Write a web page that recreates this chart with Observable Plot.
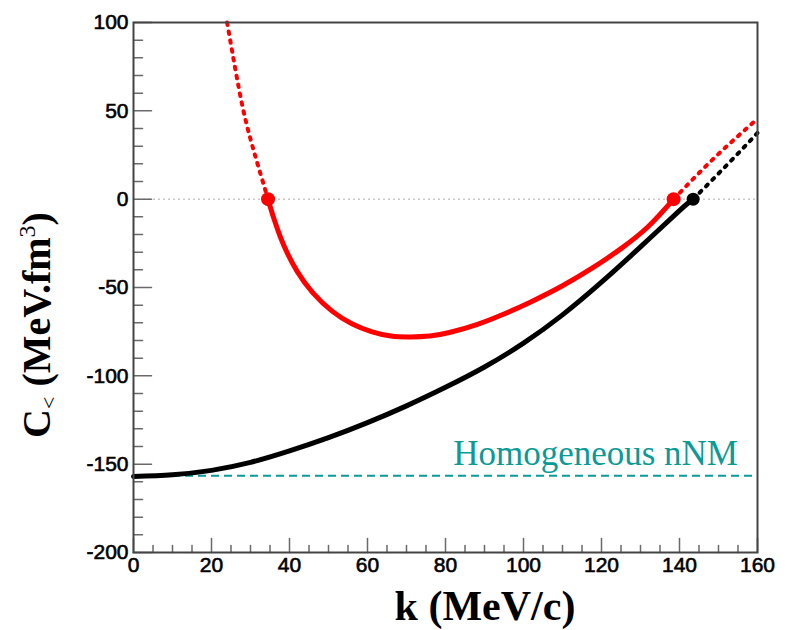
<!DOCTYPE html>
<html>
<head>
<meta charset="utf-8">
<script src="https://cdn.jsdelivr.net/npm/d3@7"></script>
<script src="https://cdn.jsdelivr.net/npm/@observablehq/plot@0.6"></script>
<style>
  body { margin: 0; background: #fff; }
  #chart { width: 787px; height: 630px; }
</style>
</head>
<body>
<div id="chart"></div>
<script>
// ---- data ----
const redSolidK = [34.5, 36, 38.5, 42, 46, 51, 56, 61, 66, 71, 76, 81, 88, 95, 102, 110, 118, 125, 132, 138.5];
const redSolidC = [0, -11, -26, -41, -53, -63.5, -70.5, -75, -77.5, -78, -77.5, -75.5, -71, -65, -58, -49, -38.5, -28, -15.5, 0];

const redDotLeftK = [24, 26, 28, 30, 32, 34.5];
const redDotLeftC = [100, 75, 52, 34, 18.5, 0];

const redDotRightK = [138.5, 149, 160];
const redDotRightC = [0, 23.5, 45.5];

const blackSolidK = [0, 10, 20, 30, 40, 50, 60, 70, 80, 90, 100, 110, 120, 130, 140, 143.5];
const blackSolidC = [-157, -156, -153.5, -149, -142.5, -135, -126.5, -117, -106.5, -95, -81.5, -65.5, -47, -27, -6.5, 0];

const blackDotK = [143.5, 152, 160];
const blackDotC = [0, 19, 37.5];

const redZeroK = [34.5, 138.5];
const blackZeroK = [143.5];

const homogeneousC = [-156.5];
const homogeneousLabel = "Homogeneous nNM";
const homogeneousLabelK = [155];
const homogeneousLabelC = [-150.7];

const xTicks = [0, 20, 40, 60, 80, 100, 120, 140, 160];
const xMinorTicks = [5, 10, 15, 25, 30, 35, 45, 50, 55, 65, 70, 75, 85, 90, 95, 105, 110, 115, 125, 130, 135, 145, 150, 155];
const yTicks = [-200, -150, -100, -50, 0, 50, 100];
const yMinorTicks = [-190, -180, -170, -160, -140, -130, -120, -110, -90, -80, -70, -60, -40, -30, -20, -10, 10, 20, 30, 40, 60, 70, 80, 90];

const xTitle = "k (MeV/c)";

// ---- build tables ----
const pts = (ks, cs) => ks.map((k, i) => ({k, c: cs[i]}));
const redSolid = pts(redSolidK, redSolidC);
const redDotLeft = pts(redDotLeftK, redDotLeftC);
const redDotRight = pts(redDotRightK, redDotRightC);
const blackSolid = pts(blackSolidK, blackSolidC);
const blackDot = pts(blackDotK, blackDotC);
const labelData = pts(homogeneousLabelK, homogeneousLabelC);

const RED = "#ff0000", TEAL = "#0a9a98", TICK = "#6a6a6a";
const tickShape = {draw(ctx, l) { ctx.moveTo(0, 0); ctx.lineTo(0, -l); }};
const DOTS = "2.5,6.5";

const plot = Plot.plot({
  width: 787,
  height: 630,
  marginLeft: 133,
  marginRight: 30,
  marginTop: 22,
  marginBottom: 78,
  x: {domain: [0, 160]},
  y: {domain: [-200, 100]},
  style: {fontFamily: "'Liberation Sans', Arial, sans-serif", fontSize: "21px", color: "#000", background: "#fff"},
  marks: [
    Plot.ruleY([0], {stroke: "#aaa", strokeWidth: 1, strokeDasharray: "2,3"}),
    Plot.ruleY(homogeneousC, {stroke: TEAL, strokeWidth: 2, strokeDasharray: "8,5"}),
    Plot.text(labelData, {x: "k", y: "c", text: () => homogeneousLabel, textAnchor: "end", lineAnchor: "bottom",
      fontFamily: "'Liberation Serif', 'Times New Roman', serif", fontSize: 35, fill: TEAL}),
    Plot.line(redDotLeft, {x: "k", y: "c", stroke: RED, strokeWidth: 4, strokeDasharray: DOTS, curve: "natural"}),
    Plot.line(redDotRight, {x: "k", y: "c", stroke: RED, strokeWidth: 4, strokeDasharray: DOTS, curve: "natural"}),
    Plot.line(blackDot, {x: "k", y: "c", stroke: "#000", strokeWidth: 4, strokeDasharray: DOTS, curve: "natural"}),
    Plot.line(blackSolid, {x: "k", y: "c", stroke: "#000", strokeWidth: 5, curve: "natural"}),
    Plot.line(redSolid, {x: "k", y: "c", stroke: RED, strokeWidth: 5, curve: "natural"}),
    Plot.dot(redZeroK, {x: d => d, y: () => 0, r: 7, fill: RED, stroke: null}),
    Plot.dot(blackZeroK, {x: d => d, y: () => 0, r: 6.5, fill: "#000", stroke: null}),
    // inside ticks
    Plot.vector(xTicks, {x: d => d, frameAnchor: "bottom", rotate: 0, length: 14, anchor: "start", shape: tickShape, stroke: TICK, strokeWidth: 1.5}),
    Plot.vector(xMinorTicks, {x: d => d, frameAnchor: "bottom", rotate: 0, length: 7, anchor: "start", shape: tickShape, stroke: TICK, strokeWidth: 1.5}),
    Plot.vector(yTicks, {y: d => d, frameAnchor: "left", rotate: 90, length: 18, anchor: "start", shape: tickShape, stroke: TICK, strokeWidth: 1.5}),
    Plot.vector(yMinorTicks, {y: d => d, frameAnchor: "left", rotate: 90, length: 9, anchor: "start", shape: tickShape, stroke: TICK, strokeWidth: 1.5}),
    Plot.axisX({ticks: xTicks, tickSize: 0, tickPadding: 5, tickFormat: d => String(d), label: null, fontSize: 21}),
    Plot.axisY({ticks: yTicks, tickSize: 0, tickPadding: 5, tickFormat: d => String(d), label: null, fontSize: 21}),
    Plot.frame({stroke: "#444", strokeWidth: 2})
  ]
});

document.getElementById("chart").appendChild(plot);

const svg = d3.select(plot);
// slightly heavier tick labels, like the reference
svg.selectAll('g[aria-label="x-axis tick label"] text, g[aria-label="y-axis tick label"] text')
  .attr("stroke", "#000").attr("stroke-width", 0.6).attr("paint-order", "fill");

// axis titles with sub/superscripts
svg.append("text")
  .attr("x", 485).attr("y", 620)
  .attr("text-anchor", "middle")
  .attr("font-family", "'Liberation Serif', 'Times New Roman', serif")
  .attr("font-weight", "bold")
  .attr("font-size", 42)
  .attr("fill", "#000")
  .text(xTitle);

const yt = svg.append("text")
  .attr("transform", "translate(50,325) rotate(-90)")
  .attr("text-anchor", "middle")
  .attr("font-family", "'Liberation Serif', 'Times New Roman', serif")
  .attr("font-weight", "bold")
  .attr("font-size", 40)
  .attr("fill", "#000");
yt.append("tspan").text("C");
yt.append("tspan").attr("font-size", 22).attr("font-weight", "normal").attr("dy", 6).text("<");
yt.append("tspan").attr("dy", -6).text(" (MeV.fm");
yt.append("tspan").attr("font-size", 24).attr("font-weight", "normal").attr("dy", -15).text("3");
yt.append("tspan").attr("dy", 15).text(")");
</script>
</body>
</html>
